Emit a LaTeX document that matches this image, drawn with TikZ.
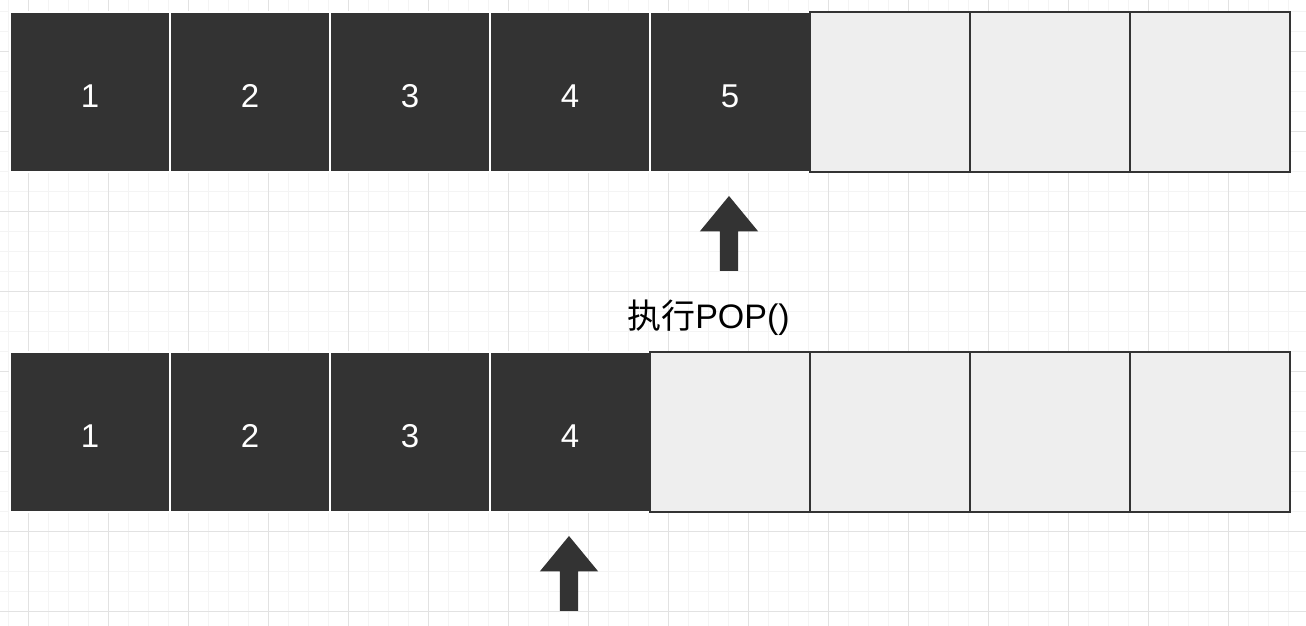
\documentclass[tikz,border=0pt]{standalone}
\usepackage{fontspec}
\setmainfont{Liberation Sans}
\newfontfamily\cjkfont{Noto Sans CJK SC}
\usetikzlibrary{positioning,shapes.arrows}
\definecolor{cellDark}{HTML}{333333}
\definecolor{cellLight}{HTML}{EEEEEE}
\definecolor{gridMinor}{HTML}{F4F4F4}
\definecolor{gridMajor}{HTML}{E2E2E2}
\tikzset{%
	% Specifications for style of nodes:
	base/.style = {rectangle, minimum size=160pt, inner sep=0pt, outer sep=0pt,
		text height=30pt, text depth=0pt,
		font=\fontsize{33}{40}\selectfont},
	stackFull/.style = {base, fill=cellDark, draw=white, line width=2pt, text=white},
	stackEmpty/.style = {base, fill=cellLight, draw=cellDark, line width=2pt},
	pointer/.style = {single arrow, fill=cellDark, draw=none, inner sep=9pt, outer sep=0pt,
		minimum width=58pt, minimum height=75pt,
		single arrow head extend=20pt, single arrow tip angle=79,
		shape border rotate=90},
}
\begin{document}
\begin{tikzpicture}[x=1pt, y=1pt]
	
	\useasboundingbox (0,0) rectangle (1306,626);
	\fill[white] (0,0) rectangle (1306,626);
	
	% background grid
	\begin{scope}[shift={(8,14)}]
		\draw[gridMinor, line width=1pt] (-8,-14) grid[step=20pt] (1298,612);
	\end{scope}
	\begin{scope}[shift={(28,14)}]
		\draw[gridMajor, line width=1pt] (-28,-14) grid[step=80pt] (1278,612);
	\end{scope}
	
	% Specification of nodes (position, etc.)
	\node (topCell1)     [stackFull] at (90,533.5)          {1};
	\node (topCell2)     [stackFull, right=0pt of topCell1]  {2};
	\node (topCell3)     [stackFull, right=0pt of topCell2]  {3};
	\node (topCell4)     [stackFull, right=0pt of topCell3]  {4};
	\node (topCell5)     [stackFull, right=0pt of topCell4]  {5};
	\node (topCell6)     [stackEmpty, right=0pt of topCell5] {};
	\node (topCell7)     [stackEmpty, right=0pt of topCell6] {};
	\node (topCell8)     [stackEmpty, right=0pt of topCell7] {};
	
	
	\node (bottomCell1)  [stackFull, below=180pt of topCell1]   {1};
	\node (bottomCell2)  [stackFull, right=0pt of bottomCell1]  {2};
	\node (bottomCell3)  [stackFull, right=0pt of bottomCell2]  {3};
	\node (bottomCell4)  [stackFull, right=0pt of bottomCell3]  {4};
	\node (bottomCell5)  [stackEmpty, right=0pt of bottomCell4] {};
	\node (bottomCell6)  [stackEmpty, right=0pt of bottomCell5] {};
	\node (bottomCell7)  [stackEmpty, right=0pt of bottomCell6] {};
	\node (bottomCell8)  [stackEmpty, right=0pt of bottomCell7] {};
	
	
	% stack top pointers
	\node (pointerTop)    [pointer, anchor=tip] at ([xshift=-1pt, yshift=-23.5pt]topCell5.south) {};
	
	\node (pointerBottom) [pointer, anchor=tip] at ([xshift=-1pt, yshift=-23.5pt]bottomCell4.south) {};
	
	
	\node (popLabel)  [below=58pt of pointerTop.tail, anchor=base, xshift=-20.5pt,
		inner sep=0pt, font=\fontsize{34}{40}\selectfont]  {{\cjkfont 执行}POP()};
	
\end{tikzpicture}
\end{document}
